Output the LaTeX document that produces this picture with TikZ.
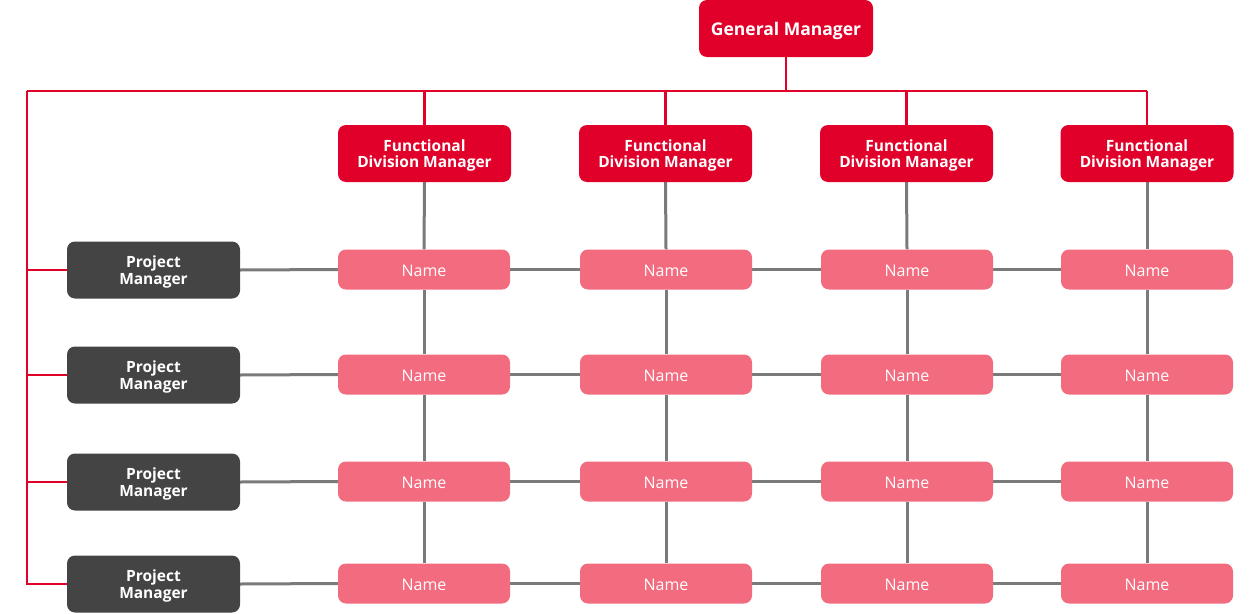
\documentclass[tikz,border=0pt]{standalone}
\usepackage{fontspec}
\setmainfont{Open Sans}
\definecolor{mgrred}{HTML}{E1002A}
\definecolor{namepink}{HTML}{F26B7E}
\definecolor{pmgray}{HTML}{444444}
\definecolor{linkgray}{HTML}{7A7A7A}
\pgfdeclarelayer{bg}
\pgfsetlayers{bg,main}
\begin{document}
\begin{tikzpicture}[x=1pt,y=-1pt,
  box/.style={rounded corners=8pt, inner sep=0pt, align=center, text=white},
  gmbox/.style={box, fill=mgrred, minimum width=174pt, minimum height=57pt, text depth=-1pt, font=\bfseries\fontsize{17.5}{19}\selectfont},
  fdbox/.style={box, fill=mgrred, minimum width=173pt, minimum height=57pt, text depth=-1.5pt, font=\bfseries\fontsize{15.5}{16}\selectfont},
  pmbox/.style={box, fill=pmgray, minimum width=173pt, minimum height=57pt, text depth=-1.5pt, font=\bfseries\fontsize{15.5}{16.5}\selectfont},
  namebox/.style={box, fill=namepink, minimum width=172pt, minimum height=40pt, text height=15pt, font=\fontsize{16}{17}\selectfont},
  redline/.style={draw=mgrred, line width=2.2pt},
  grayline/.style={draw=linkgray, line width=3pt}]
\useasboundingbox (0,0) rectangle (1260,613);

% bus of the red reporting lines
\coordinate (bus) at (786,91);
\coordinate (busL) at (27,91);
\coordinate (busR) at (1147,91);

% boxes
\node[gmbox] (gm) at (786,28.5) {General Manager};

\foreach \c [count=\ci] in {424.5,665.5,906.5,1147}{
  \node[fdbox] (fd\ci) at (\c,153.5) {Functional\\Division Manager};
}
\foreach \r [count=\ri] in {269.5,374.5,481.5,583.5}{
  \node[pmbox] (pm\ri) at (153.5,\r+0.5) {Project\\Manager};
  \foreach \c [count=\ci] in {424,666,907,1147}{
    \node[namebox] (n\ri\ci) at (\c,\r) {Name};
  }
}

% gray matrix links, behind the boxes
\begin{pgfonlayer}{bg}
  \foreach \ci in {1,2,3,4}{
    \draw[grayline] (fd\ci.south) -- (n1\ci.north);
    \draw[grayline] (n1\ci) -- (n2\ci);
    \draw[grayline] (n2\ci) -- (n3\ci);
    \draw[grayline] (n3\ci) -- (n4\ci);
  }
  \foreach \ri in {1,2,3,4}{
    \draw[grayline] (pm\ri.east) -- (n\ri1.west);
    \draw[grayline] (n\ri1) -- (n\ri2);
    \draw[grayline] (n\ri2) -- (n\ri3);
    \draw[grayline] (n\ri3) -- (n\ri4);
  }
\end{pgfonlayer}

% red hierarchy lines
\draw[redline] (gm.south) -- (bus);
\draw[redline] (busL) -- (busR);
\foreach \ci in {1,2,3,4}{
  \draw[redline] (fd\ci.north |- bus) -- (fd\ci.north);
}
\draw[redline] (busL) |- (pm4.west);
\foreach \ri in {1,2,3}{
  \draw[redline] (busL |- pm\ri.west) -- (pm\ri.west);
}
\end{tikzpicture}
\end{document}
